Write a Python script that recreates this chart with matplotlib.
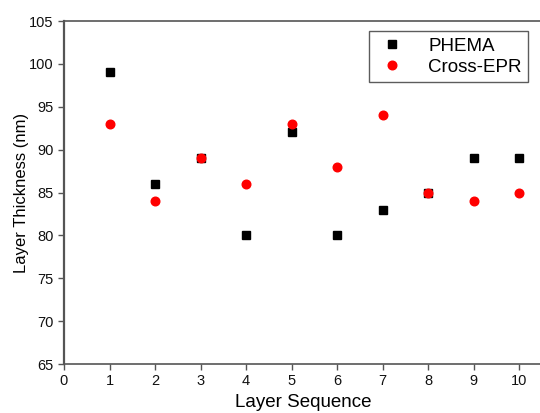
import matplotlib
matplotlib.use("Agg")
import matplotlib.pyplot as plt

layers = [1, 2, 3, 4, 5, 6, 7, 8, 9, 10]
phema = [99, 86, 89, 80, 92, 80, 83, 85, 89, 89]
cross_epr = [93, 84, 89, 86, 93, 88, 94, 85, 84, 85]

plt.rcParams["font.family"] = ["Liberation Sans", "DejaVu Sans"]

fig = plt.figure(figsize=(5.4, 4.13), dpi=100)
ax = fig.add_axes([0.1185, 0.1186, 0.885, 0.8305])

ax.plot(layers, phema, "s", color="black", markersize=5.3, linestyle="none", label="PHEMA")
ax.plot(layers, cross_epr, "o", color="red", markersize=6.2, linestyle="none", label="Cross-EPR")

ax.set_xlim(0, 10.5)
ax.set_ylim(65, 105)
ax.set_xticks(range(0, 11))
ax.set_yticks(range(65, 106, 5))

axis_color = "#555555"
for spine in ax.spines.values():
    spine.set_color(axis_color)
    spine.set_linewidth(1.2)
ax.spines["left"].set_linewidth(1.6)
ax.spines["right"].set_visible(False)
ax.tick_params(axis="both", direction="out", length=4, width=1.0,
               color=axis_color, labelsize=10.5, labelcolor="#111111")

ax.set_xlabel("Layer Sequence", fontsize=13.5, labelpad=4)
ax.set_ylabel("Layer Thickness (nm)", fontsize=12, labelpad=0)

leg = ax.legend(loc="upper right", bbox_to_anchor=(0.978, 0.925),
                bbox_transform=fig.transFigure, borderaxespad=0, fontsize=13.5,
                frameon=True, fancybox=False, edgecolor="#333333",
                handletextpad=1.0, borderpad=0.35, labelspacing=0.2,
                handlelength=1.8)
leg.get_frame().set_linewidth(1.0)

fig.savefig("out.png", dpi=100)
